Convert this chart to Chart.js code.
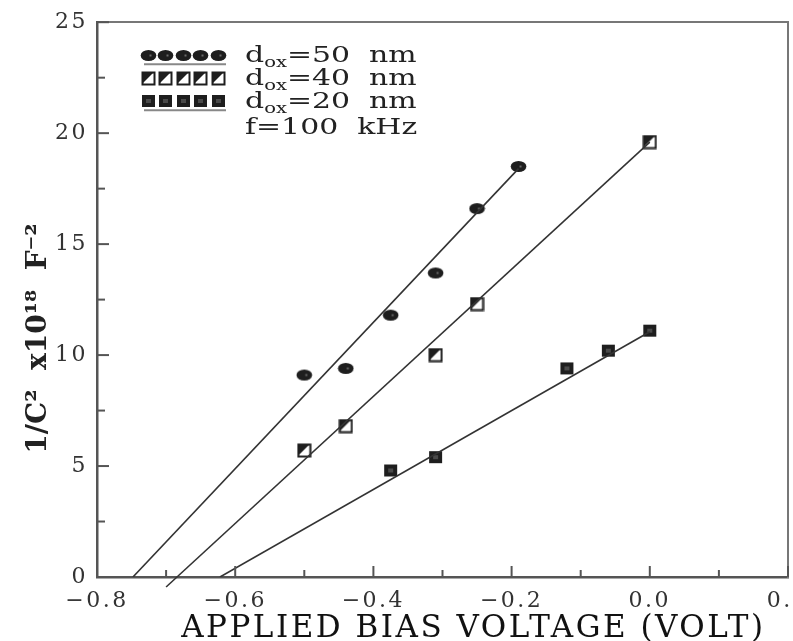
<!DOCTYPE html>
<html>
<head>
<meta charset="utf-8">
<script src="https://cdn.jsdelivr.net/npm/chart.js@4.4.1/dist/chart.umd.min.js"></script>
<style>
  html, body { margin: 0; padding: 0; background: #fff; overflow: hidden; }
  #wrap { width: 793px; height: 641px; }
</style>
</head>
<body>
<div id="wrap"><canvas id="cvChart"></canvas></div>
<script>
const d50X = [-0.50, -0.44, -0.375, -0.31, -0.25, -0.19];
const d50Y = [9.1, 9.4, 11.8, 13.7, 16.6, 18.5];
const d40X = [-0.50, -0.44, -0.31, -0.25, 0.0];
const d40Y = [5.7, 6.8, 10.0, 12.3, 19.6];
const d20X = [-0.375, -0.31, -0.12, -0.06, 0.0];
const d20Y = [4.8, 5.4, 9.4, 10.2, 11.1];

// fitted straight lines (end points)
const fit50X = [-0.748, -0.19];
const fit50Y = [0, 18.4];
const fit40X = [-0.70, 0.0];
const fit40Y = [-0.45, 19.6];
const fit20X = [-0.622, 0.0];
const fit20Y = [0, 11.05];

// labelled ticks
const xTickLabels = [-0.8, -0.6, -0.4, -0.2, 0.0, 0.2];
const yTickLabels = [0, 5, 10, 15, 20, 25];
const legendLabels = ['=50  nm', '=40  nm', '=20  nm'];
const freqLabel = 'f=100  kHz';

const pts = (xs, ys) => xs.map((x, i) => ({ x: x, y: ys[i] }));
const isLabelled = (v, list) => list.some(t => Math.abs(t - v) < 1e-6);

function makeMark(w, h, draw) {
  const c = document.createElement('canvas');
  c.width = w; c.height = h;
  draw(c.getContext('2d'), w, h);
  return c;
}

const markOval = makeMark(17, 13, (g, w, h) => {
  g.fillStyle = '#1e1e1e';
  g.beginPath(); g.ellipse(w / 2, h / 2, 7.8, 5.6, 0, 0, Math.PI * 2); g.fill();
  g.fillStyle = '#6a6a6a';
  g.fillRect(w / 2 + 1, h / 2 - 1, 2, 2);
});
const markHalf = makeMark(15, 15, (g, w, h) => {
  g.fillStyle = '#fff'; g.fillRect(1, 1, 13, 13);
  g.fillStyle = '#1e1e1e';
  g.beginPath(); g.moveTo(1, 1); g.lineTo(13, 1); g.lineTo(1, 13); g.closePath(); g.fill();
  g.strokeStyle = '#1e1e1e'; g.lineWidth = 2; g.strokeRect(1.5, 1.5, 12, 12);
});
const markSolid = makeMark(15, 14, (g, w, h) => {
  g.fillStyle = '#1e1e1e'; g.fillRect(1, 1, 13, 12);
  g.fillStyle = '#4a4a4a'; g.fillRect(5, 5, 5, 4);
});

// the scanned lettering on the x axis is spaced out; the y title is not
const spacedText = {
  id: 'spacedText',
  beforeDraw(chart) {
    chart.ctx.letterSpacing = '2.5px';
  },
  afterDatasetsDraw(chart) {
    chart.ctx.letterSpacing = '0px';
  }
};

// ticks pointing into the plot, like the original
const innerTicks = {
  id: 'innerTicks',
  afterDraw(chart) {
    const ctx = chart.ctx, a = chart.chartArea;
    const xs = chart.scales.x, ys = chart.scales.y;
    ctx.save();
    ctx.strokeStyle = '#555';
    ctx.lineWidth = 2;
    xs.ticks.forEach(t => {
      const px = xs.getPixelForValue(t.value);
      const len = isLabelled(t.value, xTickLabels) ? 11 : 7;
      ctx.beginPath(); ctx.moveTo(px, a.bottom); ctx.lineTo(px, a.bottom - len); ctx.stroke();
    });
    ys.ticks.forEach(t => {
      const py = ys.getPixelForValue(t.value);
      const len = isLabelled(t.value, yTickLabels) ? 12 : 8;
      ctx.beginPath(); ctx.moveTo(a.left, py); ctx.lineTo(a.left + len, py); ctx.stroke();
    });
    ctx.restore();
  }
};

function wideText(ctx, str, x, y, font) {
  ctx.save();
  ctx.translate(x, y);
  ctx.scale(1.3, 1);
  ctx.font = font;
  ctx.fillText(str, 0, 0);
  const w = ctx.measureText(str).width * 1.3;
  ctx.restore();
  return w;
}

// legend box in the upper left corner of the plot
const legendBox = {
  id: 'legendBox',
  afterDraw(chart) {
    const ctx = chart.ctx, a = chart.chartArea;
    const mx = a.left + 51, tx = a.left + 148;
    const rows = [a.top + 33, a.top + 56, a.top + 79];
    const marks = [markOval, markHalf, markSolid];
    ctx.save();
    ctx.letterSpacing = '0px';
    ctx.fillStyle = '#222';
    rows.forEach((y, i) => {
      const m = marks[i];
      for (let k = 0; k < 5; k++) {
        ctx.drawImage(m, Math.round(mx + k * 17.5 - m.width / 2), Math.round(y - m.height / 2));
      }
      if (i !== 1) {
        ctx.strokeStyle = '#888'; ctx.lineWidth = 2;
        ctx.beginPath(); ctx.moveTo(mx - 4, y + 9); ctx.lineTo(mx + 78, y + 9); ctx.stroke();
      }
      let w = wideText(ctx, 'd', tx, y + 7, '23px "DejaVu Serif"');
      w += wideText(ctx, 'ox', tx + w, y + 12, '15px "DejaVu Serif"');
      wideText(ctx, legendLabels[i], tx + w, y + 7, '23px "DejaVu Serif"');
    });
    wideText(ctx, freqLabel, tx, a.top + 112, '23px "DejaVu Serif"');
    ctx.restore();
  }
};

const tickFont = { family: 'DejaVu Serif', size: 22 };

new Chart(document.getElementById('cvChart'), {
  type: 'scatter',
  data: {
    datasets: [
      { data: pts(fit50X, fit50Y), showLine: true, borderColor: '#333', borderWidth: 1.6, pointRadius: 0 },
      { data: pts(fit40X, fit40Y), showLine: true, borderColor: '#333', borderWidth: 1.6, pointRadius: 0, clip: false },
      { data: pts(fit20X, fit20Y), showLine: true, borderColor: '#333', borderWidth: 1.6, pointRadius: 0 },
      { data: pts(d50X, d50Y), pointStyle: markOval },
      { data: pts(d40X, d40Y), pointStyle: markHalf },
      { data: pts(d20X, d20Y), pointStyle: markSolid }
    ]
  },
  options: {
    responsive: true,
    maintainAspectRatio: false,
    animation: false,
    layout: { padding: { left: 0, top: 17, right: 0, bottom: 0 } },
    plugins: { legend: { display: false }, tooltip: { enabled: false } },
    scales: {
      x: {
        type: 'linear', position: 'bottom', min: -0.8, max: 0.2,
        ticks: {
          stepSize: 0.1, autoSkip: false, maxRotation: 0, padding: 11,
          font: tickFont, color: '#333',
          callback: v => isLabelled(v, xTickLabels) ? (v < -1e-6 ? '\u2212' : '') + Math.abs(v).toFixed(1) : ''
        },
        grid: { drawOnChartArea: false, drawTicks: false },
        border: { color: '#555', width: 2.5 },
        title: {
          display: true, text: '     APPLIED BIAS VOLTAGE (VOLT)',
          font: { family: 'DejaVu Serif', size: 31, lineHeight: 0.8 }, color: '#111',
          padding: { top: 0, bottom: 0 }
        },
        afterFit: s => { s.height = 64; s.paddingRight = 0; }
      },
      y: {
        type: 'linear', position: 'left', min: 0, max: 25,
        ticks: {
          stepSize: 2.5, padding: 9, font: tickFont, color: '#333',
          callback: v => isLabelled(v, yTickLabels) ? String(v) : ''
        },
        // z > 0 puts the title after the datasets, when letter spacing is off
        grid: { drawOnChartArea: false, drawTicks: false, z: 1 },
        border: { color: '#555', width: 2.5, z: 1 },
        title: {
          display: true, text: '1/C\u00b2  x10\u00b9\u2078  F\u207b\u00b2        ',
          font: { family: 'DejaVu Serif', size: 28, weight: 'bold' }, color: '#222',
          padding: { top: 22, bottom: 0 }
        },
        afterFit: s => { s.width = 97; }
      },
      x2: {
        type: 'linear', position: 'top', min: -0.8, max: 0.2,
        ticks: { display: false },
        grid: { drawOnChartArea: false, drawTicks: false },
        border: { color: '#777', width: 2 },
        afterFit: s => { s.height = 0; }
      },
      y2: {
        type: 'linear', position: 'right', min: 0, max: 25,
        ticks: { display: false },
        grid: { drawOnChartArea: false, drawTicks: false },
        border: { color: '#777', width: 2 },
        afterFit: s => { s.width = 5; }
      }
    }
  },
  plugins: [spacedText, innerTicks, legendBox]
});
</script>
</body>
</html>
